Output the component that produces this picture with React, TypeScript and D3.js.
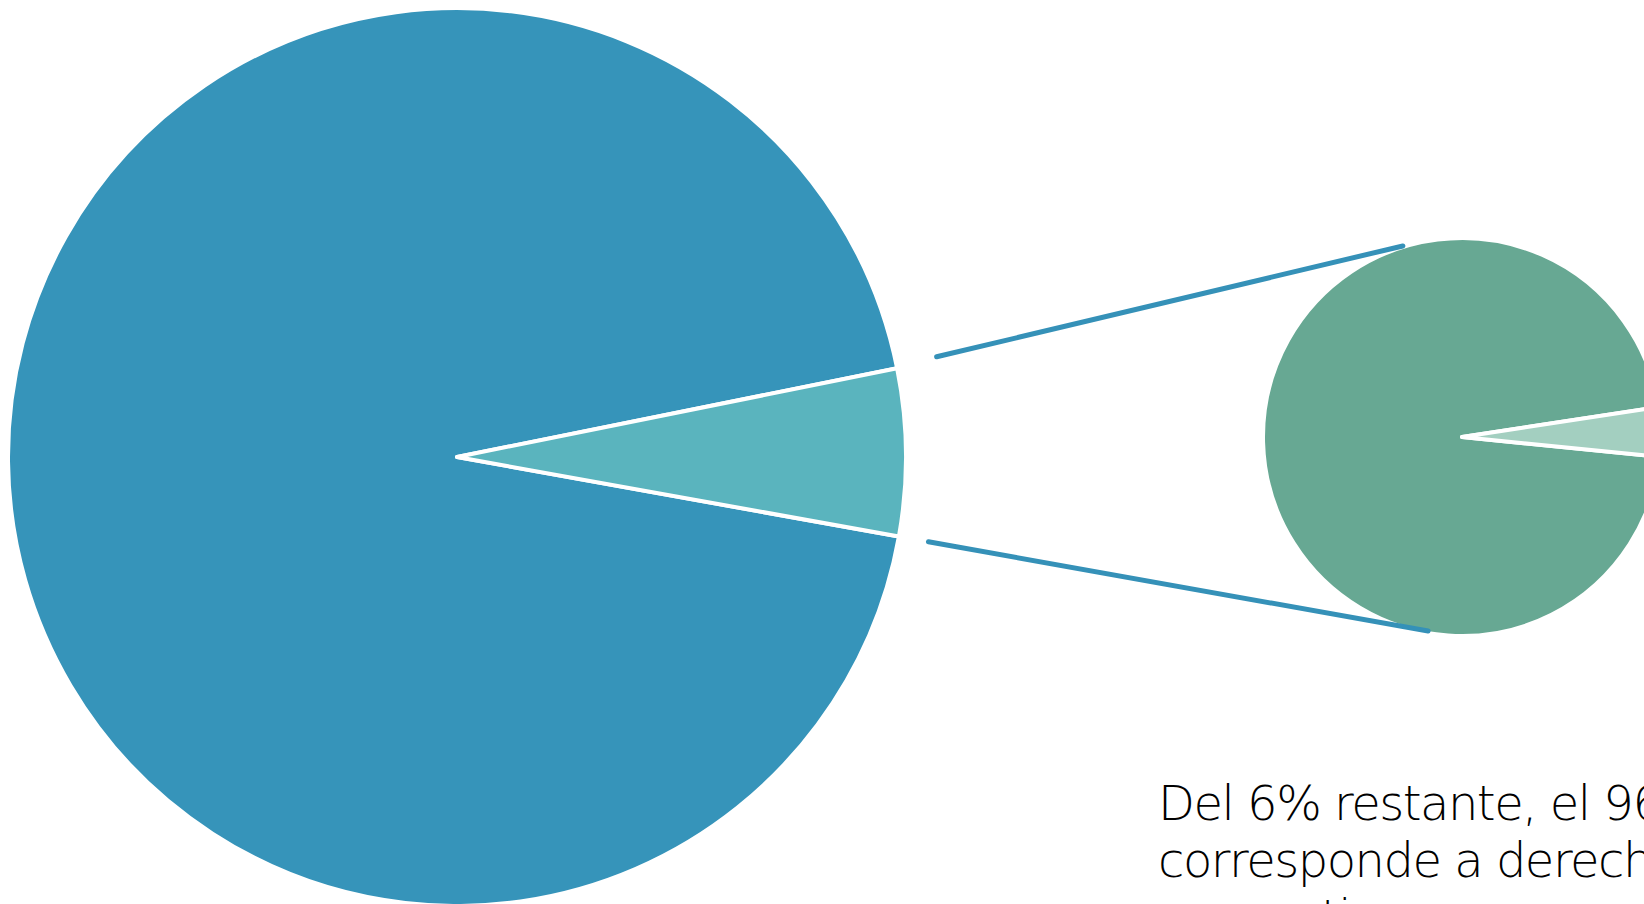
import React, { useEffect } from "react";
import * as d3 from "d3";

// Data
const mainCategories = ["Resto", "Otros"];
const mainValues = [94, 6];
const subCategories = ["Derechos", "Otros"];
const subValues = [96, 4];
const captionLines = ["Del 6% restante, el 96%", "corresponde a derechos", "consuntivos"];

const W = 1644;
const H = 904;

const mainColors = ["#3694ba", "#5ab4be"];
const subColors = ["#67a893", "#a3cfc0"];
const deg = Math.PI / 180;

export default function App() {
  useEffect(() => {
    document.body.style.margin = "0";
    document.body.style.overflow = "hidden";
  }, []);

  const big = { cx: 457, cy: 457, r: 449 };
  const small = { cx: 1462, cy: 437, r: 199 };

  // the exploded slice (6%) drawn first, starting just above horizontal
  const bigStart = 78.6 * deg;
  const mainPie = d3
    .pie<number>()
    .sort(null)
    .startAngle(bigStart - 2 * Math.PI * (mainValues[0] / d3.sum(mainValues)))
    .endAngle(bigStart + 2 * Math.PI * (mainValues[1] / d3.sum(mainValues)))(mainValues);

  const smallStart = 81.3 * deg;
  const subPie = d3
    .pie<number>()
    .sort(null)
    .startAngle(smallStart - 2 * Math.PI * (subValues[0] / d3.sum(subValues)))
    .endAngle(smallStart + 2 * Math.PI * (subValues[1] / d3.sum(subValues)))(subValues);

  const bigArc = d3.arc<d3.PieArcDatum<number>>().innerRadius(0).outerRadius(big.r);
  const smallArc = d3.arc<d3.PieArcDatum<number>>().innerRadius(0).outerRadius(small.r);

  const slice = mainPie[1];
  const pt = (c: { cx: number; cy: number }, a: number, r: number): [number, number] => [
    c.cx + r * Math.sin(a),
    c.cy - r * Math.cos(a),
  ];
  const upStart = pt(big, slice.startAngle - 0.4 * deg, 490);
  const loStart = pt(big, slice.endAngle, 479);
  const upEnd = pt(small, -17.2 * deg, 200);
  const loEnd = pt(small, 189.9 * deg, 197);
  const line = d3.line();

  return (
    <svg width={W} height={H} style={{ display: "block", background: "#fff" }}>
      <g transform={`translate(${big.cx},${big.cy})`}>
        {mainPie.map((d, i) => (
          <path
            key={mainCategories[i]}
            d={bigArc(d) || ""}
            fill={mainColors[i]}
            stroke="#fff"
            strokeWidth={4}
            strokeLinejoin="round"
          />
        ))}
      </g>
      <g transform={`translate(${small.cx},${small.cy})`}>
        {subPie.map((d, i) => (
          <path
            key={subCategories[i]}
            d={smallArc(d) || ""}
            fill={subColors[i]}
            stroke="#fff"
            strokeWidth={4}
            strokeLinejoin="round"
          />
        ))}
      </g>
      <path
        d={line([upStart, upEnd]) || ""}
        stroke="#3591b8"
        strokeWidth={5}
        strokeLinecap="round"
        fill="none"
      />
      <path
        d={line([loStart, loEnd]) || ""}
        stroke="#3591b8"
        strokeWidth={5}
        strokeLinecap="round"
        fill="none"
      />
      <text
        x={1158}
        y={820}
        fontFamily="'DejaVu Sans', sans-serif"
        fontWeight={200}
        fontSize={48}
        letterSpacing={-1.5}
        fill="#000"
      >
        {captionLines.map((t, i) => (
          <tspan key={i} x={1158} dy={i === 0 ? 0 : 57}>
            {t}
          </tspan>
        ))}
      </text>
    </svg>
  );
}
